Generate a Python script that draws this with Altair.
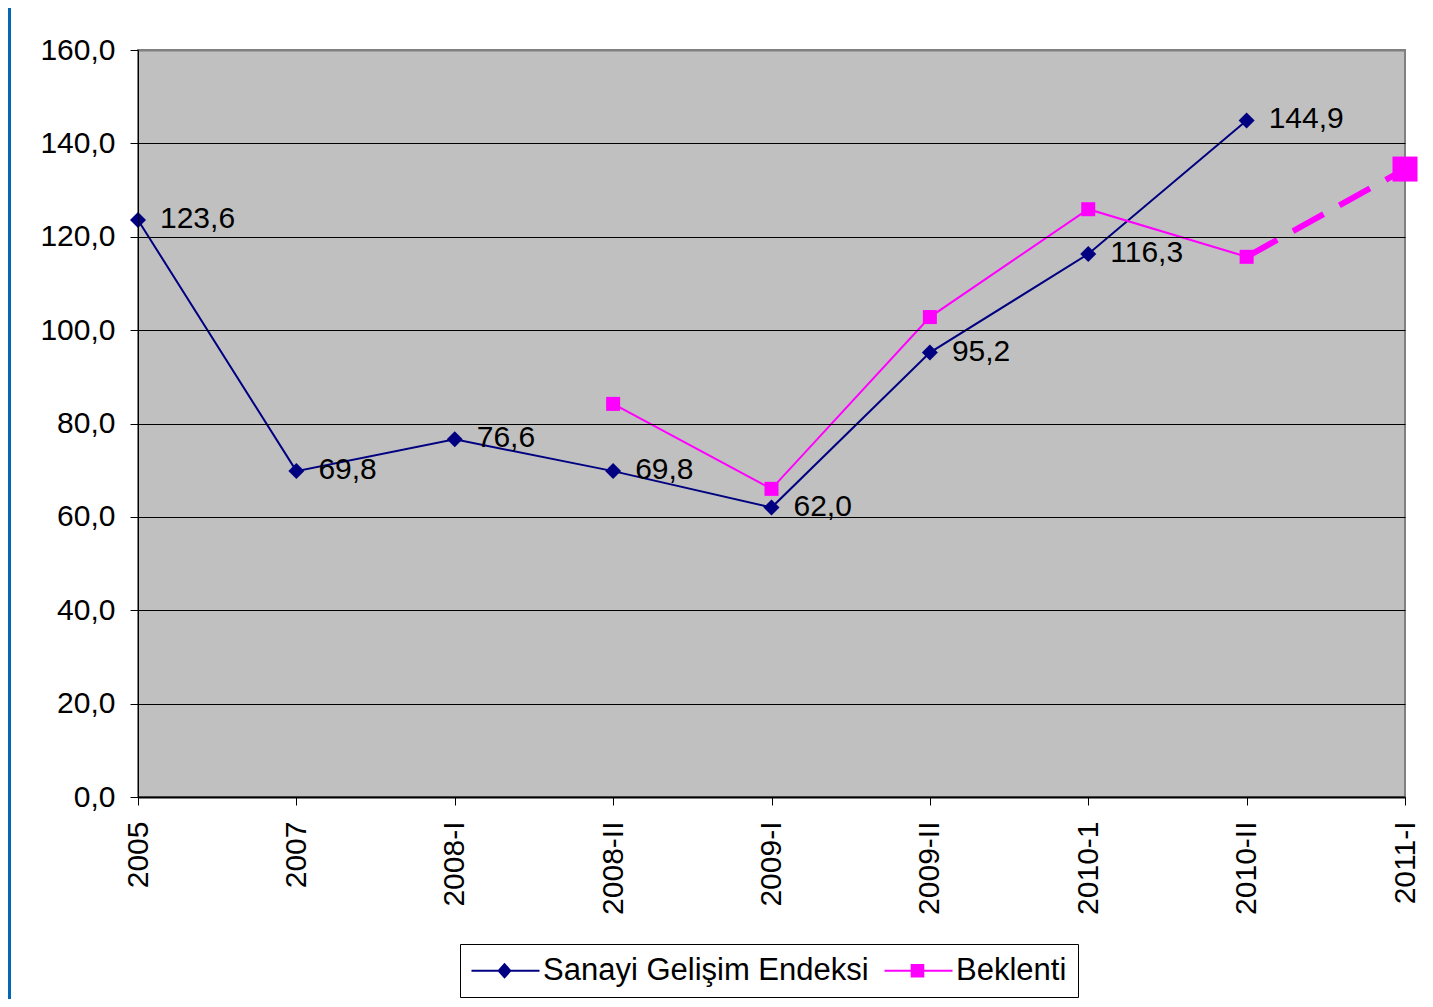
import altair as alt
import pandas as pd

categories = ["2005", "2007", "2008-I", "2008-II", "2009-I", "2009-II", "2010-1", "2010-II", "2011-I"]
sanayi = [123.6, 69.8, 76.6, 69.8, 62.0, 95.2, 116.3, 144.9, None]
beklenti = [None, None, None, 84.2, 66.0, 102.8, 125.9, 115.7, 134.5]
series_names = ["Sanayi Gelişim Endeksi", "Beklenti"]
series_colors = ["#000080", "#FF00FF"]
y_ticks = [0, 20, 40, 60, 80, 100, 120, 140, 160]
dash_start = 7   # Beklenti is dashed from 2010-II to 2011-I
last_idx = 8     # forecast point 2011-I drawn larger

rows = []
for i, c in enumerate(categories):
    if sanayi[i] is not None:
        rows.append({"cat": c, "value": sanayi[i], "series": series_names[0], "idx": i})
    if beklenti[i] is not None:
        rows.append({"cat": c, "value": beklenti[i], "series": series_names[1], "idx": i})
df = pd.DataFrame(rows)

FONT = "Liberation Sans"
label_expr = "replace(format(datum.value, '.1f'), '.', ',')"

x_enc = alt.X(
    "cat:N",
    sort=categories,
    scale=alt.Scale(type="point", domain=categories, padding=0),
    axis=alt.Axis(
        title=None, labelAngle=270, labelFontSize=30, labelFont=FONT, labelColor="black",
        tickSize=8, tickColor="black", domainColor="black", domainWidth=2,
        labelPadding=16, grid=False, zindex=1,
    ),
)
y_enc = alt.Y(
    "value:Q",
    scale=alt.Scale(domain=[0, 160], nice=False),
    axis=alt.Axis(
        title=None, values=y_ticks, labelExpr=label_expr, labelFontSize=30, labelFont=FONT,
        labelColor="black", tickSize=8, tickColor="black", domainColor="black",
        labelPadding=15, grid=True, zindex=1,
        gridColor=alt.condition("datum.value === 160", alt.value("#808080"), alt.value("#000000")),
        gridWidth=alt.condition("datum.value === 160", alt.value(2), alt.value(1)),
    ),
)

paths = [
    "M-1.875,-0.125L6.625,-0.125L6.625,0.125L-1.875,0.125Z M1.35,0L2.25,-1L3.15,0L2.25,1Z",
    "M-1.875,-0.125L6.625,-0.125L6.625,0.125L-1.875,0.125Z M1.4,-0.85L3.1,-0.85L3.1,0.85L1.4,0.85Z",
]
legend = alt.Legend(
    title=None, orient="none", legendX=322, legendY=894, direction="horizontal",
    labelFont=FONT, labelFontSize=31, labelColor="black", labelLimit=1000,
    labelOffset=41, symbolSize=256, symbolStrokeWidth=0, symbolOpacity=1,
    columnPadding=15, padding=11, strokeColor="black", fillColor="white",
)

base = alt.Chart(df)

legend_src = base.mark_point(filled=True, opacity=0, size=256).encode(
    x=x_enc, y=y_enc,
    color=alt.Color("series:N", scale=alt.Scale(domain=series_names, range=series_colors), legend=legend),
    shape=alt.Shape("series:N", scale=alt.Scale(domain=series_names, range=paths), legend=legend),
)

s_data = base.transform_filter(alt.datum.series == series_names[0])
b_data = base.transform_filter(alt.datum.series == series_names[1])

s_line = s_data.mark_line(color=series_colors[0], strokeWidth=2).encode(x=x_enc, y=y_enc, order="idx:Q")
b_line = b_data.transform_filter(alt.datum.idx <= dash_start).mark_line(
    color=series_colors[1], strokeWidth=2).encode(x=x_enc, y=y_enc, order="idx:Q")
b_dash = b_data.transform_filter(alt.datum.idx >= dash_start).mark_line(
    color=series_colors[1], strokeWidth=6, strokeDash=[35, 18]).encode(x=x_enc, y=y_enc, order="idx:Q")

s_pts = s_data.mark_point(shape="diamond", filled=True, size=256, color=series_colors[0],
                          opacity=1, strokeWidth=0).encode(x=x_enc, y=y_enc)
b_pts = b_data.transform_filter(alt.datum.idx < last_idx).mark_point(
    shape="square", filled=True, size=196, color=series_colors[1], opacity=1, strokeWidth=0
).encode(x=x_enc, y=y_enc)
b_last = b_data.transform_filter(alt.datum.idx == last_idx).mark_point(
    shape="square", filled=True, size=625, color=series_colors[1], opacity=1, strokeWidth=0
).encode(x=x_enc, y=y_enc)

s_text = s_data.transform_calculate(label=label_expr).mark_text(
    align="left", baseline="middle", dx=22, dy=-1, fontSize=30, font=FONT, color="black"
).encode(x=x_enc, y=y_enc, text="label:N")

strip = alt.Chart(pd.DataFrame({"a": [0]})).mark_rect(color="#0068B4").encode(
    x=alt.value(-130), x2=alt.value(-127), y=alt.value(-42), y2=alt.value(949)
)

chart = alt.layer(
    legend_src, s_line, b_line, b_dash, s_pts, b_pts, b_last, s_text, strip
).properties(
    width=1267, height=747,
    padding={"left": 130, "top": 42, "right": 20, "bottom": 202},
    autosize=alt.AutoSizeParams(type="none"),
    background="white",
).configure(
    font=FONT
).configure_view(
    fill="#C0C0C0", stroke="#808080", strokeWidth=2
)

chart.save("out.html", embed_options={"renderer": "svg", "actions": False})
